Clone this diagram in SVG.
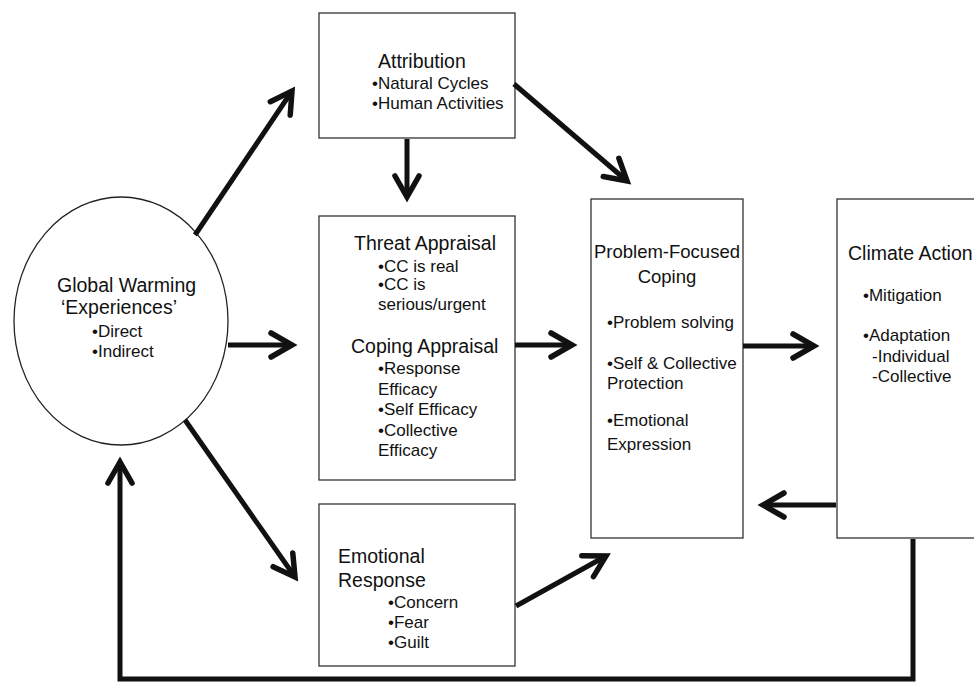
<svg xmlns="http://www.w3.org/2000/svg" width="974" height="682" viewBox="0 0 974 682">
<style>
  .box { fill: #ffffff; stroke: #333333; stroke-width: 1.3; }
  .t { font-family: "Liberation Sans", Arial, sans-serif; font-size: 19.5px; fill: #111111; }
  .b { font-family: "Liberation Sans", Arial, sans-serif; font-size: 17px; fill: #111111; }
  .arr { fill: none; stroke: #111111; stroke-width: 5; stroke-linecap: butt; stroke-linejoin: miter; }
</style>
<defs>
  <marker id="head" markerUnits="userSpaceOnUse" viewBox="-30 -20 40 40" markerWidth="40" markerHeight="40" refX="0" refY="0" orient="auto" overflow="visible">
    <path d="M -21 -12 L 0 0 L -21 12" fill="none" stroke="#111111" stroke-width="5.5" stroke-linecap="round" stroke-linejoin="miter"/>
  </marker>
</defs>
<rect width="974" height="682" fill="#ffffff"/>

<g id="global-warming">
  <ellipse cx="121" cy="321" rx="107" ry="124" fill="#ffffff" stroke="#222222" stroke-width="1.3"/>
  <text class="t" x="57" y="292">Global Warming</text>
  <text class="t" x="61" y="314">‘Experiences’</text>
  <text class="b" x="92" y="337">•Direct</text>
  <text class="b" x="92" y="357">•Indirect</text>
</g>

<g id="attribution">
  <rect class="box" x="319" y="13" width="196" height="125"/>
  <text class="t" x="378" y="68">Attribution</text>
  <text class="b" x="372" y="89">•Natural Cycles</text>
  <text class="b" x="372" y="109">•Human Activities</text>
</g>

<g id="appraisal">
  <rect class="box" x="319" y="216" width="196" height="264"/>
  <text class="t" x="354" y="250">Threat Appraisal</text>
  <text class="b" x="378" y="272">•CC is real</text>
  <text class="b" x="378" y="290">•CC is</text>
  <text class="b" x="378" y="310">serious/urgent</text>
  <text class="t" x="351" y="353">Coping Appraisal</text>
  <text class="b" x="378" y="374">•Response</text>
  <text class="b" x="378" y="395">Efficacy</text>
  <text class="b" x="378" y="415">•Self Efficacy</text>
  <text class="b" x="378" y="436">•Collective</text>
  <text class="b" x="378" y="456">Efficacy</text>
</g>

<g id="emotional-response">
  <rect class="box" x="319" y="504" width="196" height="162"/>
  <text class="t" x="338" y="563">Emotional</text>
  <text class="t" x="338" y="587">Response</text>
  <text class="b" x="388" y="608">•Concern</text>
  <text class="b" x="388" y="628">•Fear</text>
  <text class="b" x="388" y="648">•Guilt</text>
</g>

<g id="problem-focused">
  <rect class="box" x="591" y="199" width="152" height="339"/>
  <text class="t" x="667" y="258" text-anchor="middle" style="font-size:18.5px">Problem-Focused</text>
  <text class="t" x="667" y="283" text-anchor="middle" style="font-size:18.5px">Coping</text>
  <text class="b" x="607" y="328">•Problem solving</text>
  <text class="b" x="607" y="369">•Self &amp; Collective</text>
  <text class="b" x="607" y="389">Protection</text>
  <text class="b" x="607" y="426">•Emotional</text>
  <text class="b" x="607" y="450">Expression</text>
</g>

<g id="climate-action">
  <rect class="box" x="837" y="199" width="150" height="339"/>
  <text class="t" x="848" y="260">Climate Action</text>
  <text class="b" x="863" y="301">•Mitigation</text>
  <text class="b" x="863" y="341">•Adaptation</text>
  <text class="b" x="872" y="362">-Individual</text>
  <text class="b" x="872" y="382">-Collective</text>
</g>

<g id="connectors">
  <line class="arr" x1="195" y1="235" x2="292" y2="91" marker-end="url(#head)"/>
  <line class="arr" x1="407" y1="139" x2="407" y2="197" marker-end="url(#head)"/>
  <line class="arr" x1="514" y1="84" x2="627" y2="181" marker-end="url(#head)"/>
  <line class="arr" x1="228" y1="345" x2="292" y2="345" marker-end="url(#head)"/>
  <line class="arr" x1="515" y1="345" x2="572" y2="345" marker-end="url(#head)"/>
  <line class="arr" x1="743" y1="346" x2="814" y2="346" marker-end="url(#head)"/>
  <line class="arr" x1="185" y1="420" x2="295" y2="577" marker-end="url(#head)"/>
  <line class="arr" x1="516" y1="606" x2="606" y2="556" marker-end="url(#head)"/>
  <line class="arr" x1="836" y1="505" x2="763" y2="505" marker-end="url(#head)"/>
  <polyline class="arr" points="913,539 913,679 120,679 120,462" marker-end="url(#head)"/>
</g>
</svg>
